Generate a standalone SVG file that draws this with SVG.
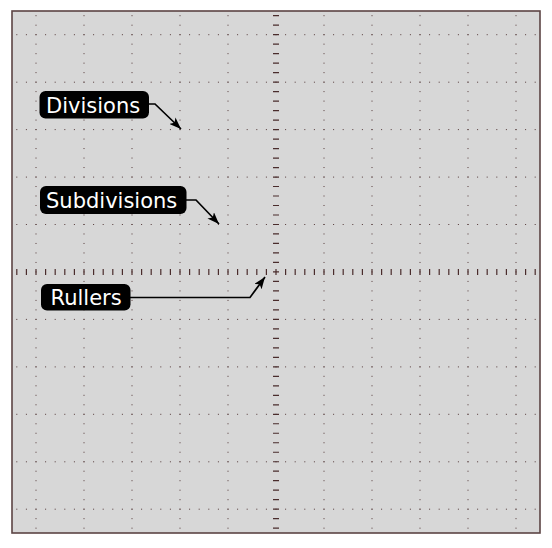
<svg xmlns="http://www.w3.org/2000/svg" width="552" height="548" viewBox="0 0 552 548">
<defs>
<style>
.hd{stroke:#553a3a;stroke-width:1;stroke-dasharray:1 8.6;fill:none}
.vd{stroke:#553a3a;stroke-width:1;stroke-dasharray:1 8.49;fill:none}
.rv{stroke:#4a2c2c;stroke-width:6;stroke-dasharray:1.2 8.29;fill:none}
.rh{stroke:#4a2c2c;stroke-width:6;stroke-dasharray:1.2 8.4;fill:none}
.box{fill:#000}
.lbl{fill:#fff;font-family:"DejaVu Sans",sans-serif;font-size:21px}
.conn{stroke:#000;stroke-width:1.7;fill:none;marker-end:url(#ah)}
</style>
<marker id="ah" viewBox="0 0 12 9" refX="12" refY="4.5" markerWidth="12" markerHeight="9" markerUnits="userSpaceOnUse" orient="auto">
<path d="M0,0 L12,4.5 L0,9 L3,4.5 Z" fill="#000"/>
</marker>
</defs>
<rect x="0" y="0" width="552" height="548" fill="#fff"/>
<rect x="12" y="11" width="528" height="522" fill="#d7d7d7" stroke="#5c4444" stroke-width="1.6"/>
<g id="grid">
<g id="rows">
<line class="hd" x1="16.3" y1="34.7" x2="540" y2="34.7"/>
<line class="hd" x1="16.3" y1="82.2" x2="540" y2="82.2"/>
<line class="hd" x1="16.3" y1="129.6" x2="540" y2="129.6"/>
<line class="hd" x1="16.3" y1="177.1" x2="540" y2="177.1"/>
<line class="hd" x1="16.3" y1="224.5" x2="540" y2="224.5"/>
<line class="hd" x1="16.3" y1="319.4" x2="540" y2="319.4"/>
<line class="hd" x1="16.3" y1="366.9" x2="540" y2="366.9"/>
<line class="hd" x1="16.3" y1="414.3" x2="540" y2="414.3"/>
<line class="hd" x1="16.3" y1="461.8" x2="540" y2="461.8"/>
<line class="hd" x1="16.3" y1="509.2" x2="540" y2="509.2"/>
</g>
<g id="cols">
<line class="vd" x1="36" y1="15.2" x2="36" y2="533"/>
<line class="vd" x1="84" y1="15.2" x2="84" y2="533"/>
<line class="vd" x1="132" y1="15.2" x2="132" y2="533"/>
<line class="vd" x1="180" y1="15.2" x2="180" y2="533"/>
<line class="vd" x1="228" y1="15.2" x2="228" y2="533"/>
<line class="vd" x1="324" y1="15.2" x2="324" y2="533"/>
<line class="vd" x1="372" y1="15.2" x2="372" y2="533"/>
<line class="vd" x1="420" y1="15.2" x2="420" y2="533"/>
<line class="vd" x1="468" y1="15.2" x2="468" y2="533"/>
<line class="vd" x1="516" y1="15.2" x2="516" y2="533"/>
</g>
<g id="rulers">
<line class="rv" x1="276" y1="15.1" x2="276" y2="533"/>
<line class="rh" x1="16.2" y1="272" x2="540" y2="272"/>
</g>
</g>
<g id="connectors">
<polyline class="conn" points="148,104 155,104 181,129"/>
<polyline class="conn" points="186,200 196,200 219,224"/>
<polyline class="conn" points="130,297.5 250,297.5 265,277"/>
</g>
<g id="divisions">
<rect class="box" x="39.5" y="91" width="109.5" height="27.5" rx="6"/>
<text class="lbl" x="46" y="112.5">Divisions</text>
</g>
<g id="subdivisions">
<rect class="box" x="40" y="186" width="146.5" height="28" rx="6"/>
<text class="lbl" x="46" y="207.7">Subdivisions</text>
</g>
<g id="rullers">
<rect class="box" x="41" y="284" width="89.5" height="26.5" rx="6"/>
<text class="lbl" x="50.5" y="305">Rullers</text>
</g>
</svg>
